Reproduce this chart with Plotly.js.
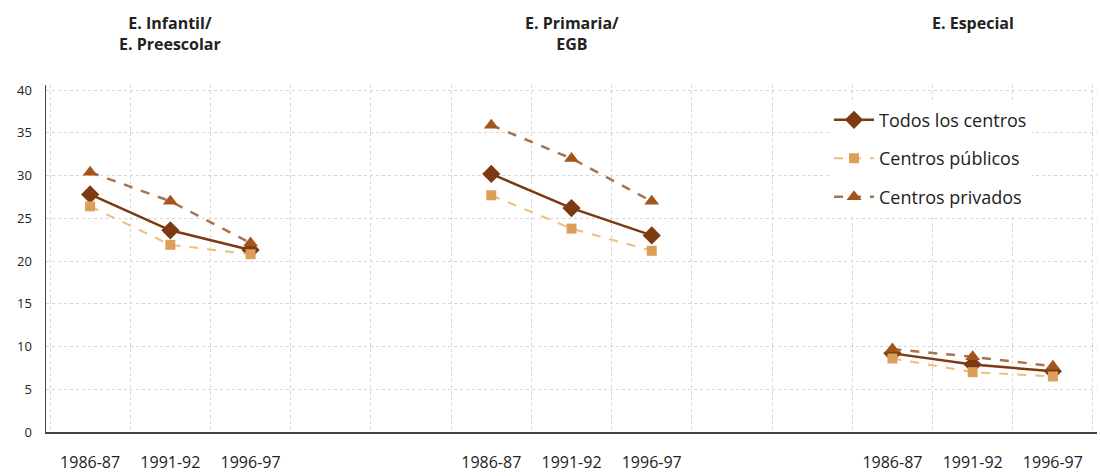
<!DOCTYPE html>
<html><head><meta charset="utf-8">
<script src="https://cdn.plot.ly/plotly-3.0.1.min.js"></script>
<style>html,body{margin:0;padding:0;background:#fff}#chart{width:1100px;height:476px}</style>
</head><body><div id="chart"></div>
<script>
const periods = ["1986-87", "1991-92", "1996-97"];
const groups = ["E. Infantil/<br>E. Preescolar", "E. Primaria/<br>EGB", "E. Especial"];
const positions = [0, 1, 2, 5, 6, 7, 10, 11, 12];
const groupCenters = [1, 6, 11];
const todos = [27.8, 23.6, 21.3, 30.2, 26.2, 23.0, 9.2, 7.9, 7.1];
const publicos = [26.4, 21.9, 20.8, 27.7, 23.8, 21.2, 8.6, 7.0, 6.5];
const privados = [30.4, 27.0, 22.1, 35.9, 32.0, 27.0, 9.7, 8.8, 7.7];
const seriesNames = ["Todos los centros", "Centros públicos", "Centros privados"];

function seg(arr) {
  const xs = [], ys = [];
  for (let g = 0; g < 3; g++) {
    for (let i = 0; i < 3; i++) { xs.push(positions[g*3+i]); ys.push(arr[g*3+i]); }
    if (g < 2) { xs.push(null); ys.push(null); }
  }
  return {x: xs, y: ys};
}
const tickLabels = [];
for (let g = 0; g < 3; g++) for (let i = 0; i < 3; i++) tickLabels.push(periods[i]);

const pp = seg(privados), pu = seg(publicos), to = seg(todos);
const data = [
  {x: to.x, y: to.y, name: seriesNames[0], legendgroup: 'a', mode: 'lines+markers', connectgaps: false,
   line: {color: '#7b3a12', width: 2.5}, marker: {symbol: 'diamond', size: 14, color: '#7b3a12'}},
  {x: pu.x, y: pu.y, name: seriesNames[1], legendgroup: 'b', mode: 'lines+markers', connectgaps: false,
   line: {color: '#f0bd7a', width: 2, dash: 'dash'}, marker: {symbol: 'square', size: 10, color: '#dc9f5a'}},
  {x: pp.x, y: pp.y, name: seriesNames[2], legendgroup: 'c', mode: 'lines+markers', connectgaps: false,
   line: {color: '#a57552', width: 2.5, dash: 'dash'}, marker: {symbol: 'triangle-up', size: 13, color: '#a5541c'}}
];

const annotations = groups.map((t, i) => ({
  text: '<b>' + t + '</b>', x: groupCenters[i], xref: 'x', y: 1.215, yref: 'paper',
  yanchor: 'top', showarrow: false,
  font: {family: 'Open Sans, sans-serif', size: 16, color: '#222'}, align: 'center'
}));

const minorVals = [];
for (let k = -0.5; k <= 12.5; k += 1) minorVals.push(k);

const layout = {
  width: 1100, height: 476,
  margin: {l: 46, r: 3, t: 85, b: 44},
  paper_bgcolor: '#fff', plot_bgcolor: '#fff',
  showlegend: true,
  legend: {x: 0.745, y: 0.952, xanchor: 'left', yanchor: 'top', bgcolor: '#fff',
           font: {family: 'Open Sans, sans-serif', size: 18, color: '#222'},
           traceorder: 'grouped', itemwidth: 40, tracegroupgap: 12},
  xaxis: {range: [-0.55, 12.55], tickvals: positions, ticktext: tickLabels,
          showgrid: false, zeroline: false, showline: true, linecolor: '#444', linewidth: 1.5,
          ticks: '', ticklabelstandoff: 15,
          tickfont: {family: 'Open Sans, sans-serif', size: 16, color: '#222'},
          minor: {tickvals: minorVals, showgrid: true, gridcolor: '#d6d6d6', griddash: 'dot', gridwidth: 1, ticks: ''}},
  yaxis: {range: [0, 40.6], tickvals: [0,5,10,15,20,25,30,35,40], showgrid: true,
          gridcolor: '#d6d6d6', griddash: 'dot', gridwidth: 1, zeroline: false,
          showline: true, linecolor: '#444', linewidth: 1.5, ticks: '', ticklabelstandoff: 10,
          tickfont: {family: 'Open Sans, sans-serif', size: 13, color: '#222'}},
  annotations: annotations
};
Plotly.newPlot('chart', data, layout, {displayModeBar: false, staticPlot: true});
</script></body></html>
